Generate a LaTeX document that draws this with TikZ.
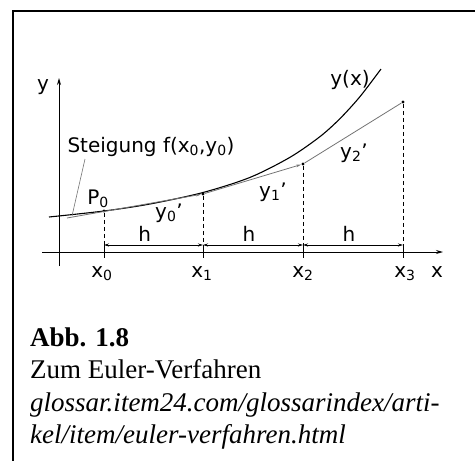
\documentclass[tikz,border=0pt]{standalone}
\usepackage{fontspec}
\setmainfont{Liberation Serif}
\newfontfamily\dinfont{DejaVu Sans}
\usetikzlibrary{arrows.meta}

\newcommand{\sbs}[1]{\textsubscript{#1}}

\tikzset{
  lbl/.style={font=\dinfont\fontsize{20}{20}\selectfont, inner sep=0pt},
  dot/.style={circle, fill, inner sep=0pt, minimum size=3.4pt},
  guide/.style={dash pattern=on 4pt off 3pt, line width=0.8pt},
  euler/.style={black!55, line width=0.8pt},
}

\begin{document}
\begin{tikzpicture}[x=1pt,y=-1pt]
  \useasboundingbox (0,0) rectangle (475,461);
  % frame
  \draw[line width=1.3pt] (13,461) -- (13,11) -- (475,11);

  % axes
  \coordinate (xa) at (42,252);
  \coordinate (xb) at (443,252);
  \coordinate (ya) at (59,266);
  \coordinate (yb) at (59,78);
  \path[-{Stealth[length=7pt,width=4pt]}, line width=0.9pt]
    (xa) edge (xb)
    (ya) edge (yb);
  \node[lbl, anchor=base] (ylab) at (43,90) {y};
  \node[lbl, anchor=base] (xlab) at (437,277) {x};

  % Euler points
  \node[dot] (p0) at (104,211) {};
  \node[dot] (p1) at (203,194) {};
  \node[dot] (p2) at (303,164) {};
  \node[dot] (p3) at (403,102) {};

  % tick feet
  \foreach \i/\xx in {0/104,1/203,2/303,3/403}{
    \coordinate (d\i) at (\xx,245);
    \draw[line width=0.9pt] (d\i) -- ++(0,13);
    \draw[guide] (p\i) -- (d\i);
  }
  \node[lbl, anchor=base] (x0) at (102,277) {x\sbs{0}};
  \node[lbl, anchor=base] (x1) at (202,277) {x\sbs{1}};
  \node[lbl, anchor=base] (x2) at (303,277) {x\sbs{2}};
  \node[lbl, anchor=base] (x3) at (405,277) {x\sbs{3}};

  % step width h
  \path[{Stealth[length=5pt,width=3pt]}-{Stealth[length=5pt,width=3pt]}, line width=0.8pt]
    (d0) edge node[lbl, pos=0.41, anchor=base, yshift=4pt] {h} (d1)
    (d1) edge node[lbl, pos=0.46, anchor=base, yshift=4pt] {h} (d2)
    (d2) edge node[lbl, pos=0.46, anchor=base, yshift=4pt] {h} (d3);

  % exact solution
  \draw[line width=1.1pt] plot[smooth] coordinates
    {(49,217) (104,211) (150,204) (203,192.5) (250,177.4) (290,157.3)
     (320,136.6) (340,118.6) (360,96.6) (381,69)};
  \node[lbl] (yx) at (350,80) {y(x)};

  % Euler polygon
  \coordinate (e0) at (67,218);
  \draw[euler, -{Stealth[length=5pt,width=2.5pt]}] (e0) -- (p1);
  \draw[euler, -{Stealth[length=5pt,width=2.5pt]}] (p1) -- (p2);
  \draw[euler] (p2) -- (p3);

  % labels
  \node[lbl] (steig) at (151,147) {Steigung f(x\sbs{0},y\sbs{0})};
  \coordinate (foot) at (72,216);
  \draw[euler, line width=0.6pt] (85,159) -- (foot);
  \node[lbl] (plab) at (98,199) {P\sbs{0}};
  \node[lbl] (s0) at (169,213) {y\sbs{0}’};
  \node[lbl] (s1) at (273,192) {y\sbs{1}’};
  \node[lbl] (s2) at (354,153) {y\sbs{2}’};

  % caption
  \node[anchor=north west, align=left, inner sep=0pt,
        font=\fontsize{27}{32.5}\selectfont] (cap) at (30,327.5)
    {\textbf{Abb. 1.8}\\Zum Euler-Verfahren\\
     \textit{glossar.item24.com/glossarindex/arti-}\\
     \textit{kel/item/euler-verfahren.html}};
\end{tikzpicture}
\end{document}
